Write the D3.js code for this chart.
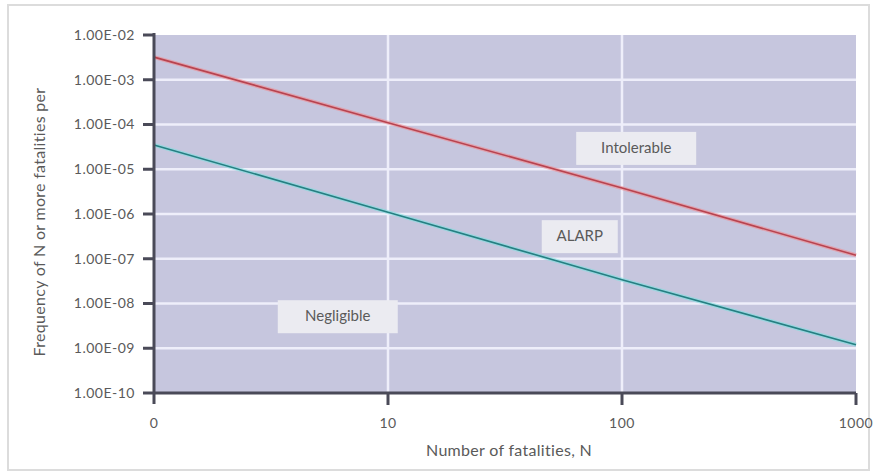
<!DOCTYPE html>
<html>
<head>
<meta charset="utf-8">
<script src="https://cdn.jsdelivr.net/npm/d3@7"></script>
<style>
  body { margin: 0; background: #fff; }
  svg text { font-family: "Lato", "Open Sans", sans-serif; fill: #5a5a5a; }
</style>
</head>
<body>
<div id="chart"></div>
<script>
// F-N curve data
var xTicks = [1, 10, 100, 1000];
var xTickLabels = ["0", "10", "100", "1000"];
var yTicks = [1e-2, 1e-3, 1e-4, 1e-5, 1e-6, 1e-7, 1e-8, 1e-9, 1e-10];
var yTickLabels = ["1.00E-02", "1.00E-03", "1.00E-04", "1.00E-05", "1.00E-06",
                   "1.00E-07", "1.00E-08", "1.00E-09", "1.00E-10"];
var fatalities = [1, 10, 100, 1000];
var upperLimit = [3.2e-3, 1.1e-4, 3.8e-6, 1.2e-7];   // red: intolerable boundary
var lowerLimit = [3.5e-5, 1.1e-6, 3.4e-8, 1.2e-9];   // teal: negligible boundary
var regionLabels = ["Intolerable", "ALARP", "Negligible"];
var regionN = [115, 66, 6.1];
var regionF = [3e-5, 3.2e-7, 5.2e-9];

var W = 878, H = 472;
var mLeft = 154, mRight = 856, mTop = 35, mBottom = 393;

var svg = d3.select("#chart").append("svg")
	.attr("width", W)
	.attr("height", H);

// outer frame
svg.append("rect")
	.attr("x", 8).attr("y", 5)
	.attr("width", 861).attr("height", 465)
	.attr("fill", "#fff")
	.attr("stroke", "#dcdcdc")
	.attr("stroke-width", 2);

var x = d3.scaleLog().domain([1, 1000]).range([mLeft, mRight]);
var y = d3.scaleLog().domain([1e-10, 1e-2]).range([mBottom, mTop]);

// plot background
svg.append("rect")
	.attr("x", mLeft).attr("y", mTop)
	.attr("width", mRight - mLeft).attr("height", mBottom - mTop)
	.attr("fill", "#c6c6de");

// grid
svg.append("g").selectAll("line")
	.data(yTicks.filter(function(d) { return d < 1e-2 && d > 1e-10; }))
	.enter().append("line")
	.attr("x1", mLeft).attr("x2", mRight)
	.attr("y1", function(d) { return y(d); })
	.attr("y2", function(d) { return y(d); })
	.attr("stroke", "#eeeefa")
	.attr("stroke-width", 2.5);

svg.append("g").selectAll("line")
	.data([10, 100])
	.enter().append("line")
	.attr("x1", function(d) { return x(d); })
	.attr("x2", function(d) { return x(d); })
	.attr("y1", mTop).attr("y2", mBottom)
	.attr("stroke", "#eeeefa")
	.attr("stroke-width", 2.5);

// curves
var line = d3.line()
	.x(function(d) { return x(d[0]); })
	.y(function(d) { return y(d[1]); });

function drawCurve(vals, glow, core) {
	var pts = d3.zip(fatalities, vals);
	svg.append("path").datum(pts)
		.attr("d", line).attr("fill", "none")
		.attr("stroke", glow).attr("stroke-width", 4).attr("opacity", 0.6);
	svg.append("path").datum(pts)
		.attr("d", line).attr("fill", "none")
		.attr("stroke", core).attr("stroke-width", 1.6);
}
drawCurve(upperLimit, "#f08a90", "#b8434f");
drawCurve(lowerLimit, "#7fe0e0", "#257f82");

// region labels
var lab = svg.append("g").selectAll("g")
	.data(regionLabels)
	.enter().append("g")
	.attr("transform", function(d, i) {
		return "translate(" + x(regionN[i]) + "," + y(regionF[i]) + ")";
	});
lab.append("rect")
	.attr("x", function(d) { return d === "ALARP" ? -38 : -60; })
	.attr("width", function(d) { return d === "ALARP" ? 76 : 120; })
	.attr("y", -16).attr("height", 33)
	.attr("fill", "#ebebf1");
lab.append("text")
	.attr("text-anchor", "middle")
	.attr("dy", "0.35em")
	.style("font-size", "15px")
	.text(function(d) { return d; });

// axes
var axisColor = "#4a4a58";
svg.append("line")
	.attr("x1", mLeft).attr("x2", mLeft)
	.attr("y1", mTop - 2).attr("y2", mBottom + 11)
	.attr("stroke", axisColor).attr("stroke-width", 3);
svg.append("line")
	.attr("x1", mLeft).attr("x2", mRight)
	.attr("y1", mBottom).attr("y2", mBottom)
	.attr("stroke", axisColor).attr("stroke-width", 3);

svg.append("g").selectAll("line")
	.data(yTicks)
	.enter().append("line")
	.attr("x1", mLeft - 11).attr("x2", mLeft + 1)
	.attr("y1", function(d) { return y(d); })
	.attr("y2", function(d) { return y(d); })
	.attr("stroke", axisColor).attr("stroke-width", 3);

svg.append("g").selectAll("text")
	.data(yTicks)
	.enter().append("text")
	.attr("x", 135)
	.attr("y", function(d) { return y(d); })
	.attr("dy", "0.35em")
	.attr("text-anchor", "end")
	.style("font-size", "14px")
	.style("letter-spacing", "0.5px")
	.text(function(d, i) { return yTickLabels[i]; });

svg.append("g").selectAll("line")
	.data(xTicks.slice(1))
	.enter().append("line")
	.attr("x1", function(d) { return x(d); })
	.attr("x2", function(d) { return x(d); })
	.attr("y1", mBottom).attr("y2", mBottom + 12)
	.attr("stroke", axisColor).attr("stroke-width", 3);

svg.append("g").selectAll("text")
	.data(xTicks)
	.enter().append("text")
	.attr("x", function(d) { return x(d); })
	.attr("y", 423)
	.attr("dy", "0.35em")
	.attr("text-anchor", "middle")
	.style("font-size", "14px")
	.style("letter-spacing", "0.5px")
	.text(function(d, i) { return xTickLabels[i]; });

// titles
svg.append("text")
	.attr("x", 509).attr("y", 450)
	.attr("dy", "0.35em")
	.attr("text-anchor", "middle")
	.style("font-size", "16px")
	.style("letter-spacing", "0.3px")
	.text("Number of fatalities, N");

svg.append("text")
	.attr("transform", "translate(39,222) rotate(-90)")
	.attr("dy", "0.35em")
	.attr("text-anchor", "middle")
	.style("font-size", "16px")
	.style("letter-spacing", "0.3px")
	.text("Frequency of N or more fatalities per");
</script>
</body>
</html>
